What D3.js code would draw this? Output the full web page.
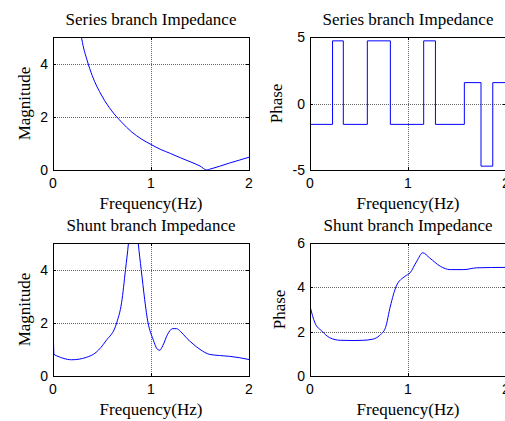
<!DOCTYPE html>
<html>
<head>
<meta charset="utf-8">
<script src="https://cdn.jsdelivr.net/npm/d3@7"></script>
<style>
  body { margin: 0; background: #fff; }
  svg { display: block; }
  .tick-label { font-family: "Liberation Sans", Arial, sans-serif; font-size: 14px; fill: #000; }
  .title, .axis-title { font-family: "Liberation Serif", "Times New Roman", serif; font-size: 17px; fill: #000; }
</style>
</head>
<body>
<div id="chart"></div>
<script>
// Series branch magnitude
const seriesMagFreq = [0.29, 0.3, 0.35, 0.4, 0.5, 0.6, 0.7, 0.8, 0.9, 1.0, 1.1, 1.2, 1.3, 1.4, 1.5, 1.57, 1.6, 1.7, 1.8, 1.9, 2.0];
const seriesMag     = [5.0, 4.8, 4.1, 3.55, 2.78, 2.22, 1.8, 1.44, 1.17, 0.96, 0.77, 0.62, 0.46, 0.31, 0.15, 0.0, 0.03, 0.14, 0.26, 0.37, 0.48];

// Series branch phase (step levels)
const seriesPhaseFreq = [0, 0.23, 0.34, 0.585, 0.82, 1.16, 1.28, 1.575, 1.745, 1.865, 2.0];
const seriesPhase     = [-1.57, 4.71, -1.57, 4.71, -1.57, 4.71, -1.57, 1.57, -4.71, 1.57, 1.57];

// Shunt branch magnitude
const shuntMagFreq = [0, 0.01, 0.05, 0.1, 0.19, 0.34, 0.44, 0.54, 0.65, 0.7, 0.74, 0.77, 0.82, 0.87, 0.9, 0.97, 1.02, 1.07, 1.09, 1.12, 1.17, 1.22, 1.26, 1.3, 1.36, 1.43, 1.5, 1.6, 1.7, 1.8, 1.9, 2.0];
const shuntMag     = [2.39, 0.82, 0.74, 0.67, 0.61, 0.7, 0.89, 1.32, 2.0, 2.76, 4.0, 5.0, 7.5, 5.0, 4.0, 2.0, 1.39, 0.99, 0.97, 1.14, 1.57, 1.78, 1.78, 1.68, 1.44, 1.2, 1.0, 0.81, 0.77, 0.74, 0.69, 0.62];

// Shunt branch phase
const shuntPhaseFreq = [0, 0.05, 0.12, 0.2, 0.31, 0.45, 0.54, 0.64, 0.71, 0.77, 0.82, 0.88, 0.97, 1.02, 1.09, 1.15, 1.22, 1.33, 1.43, 1.57, 1.7, 2.0];
const shuntPhase     = [3.15, 2.4, 2.03, 1.73, 1.61, 1.6, 1.61, 1.66, 1.83, 2.18, 3.15, 4.05, 4.5, 4.65, 5.18, 5.56, 5.33, 4.95, 4.8, 4.8, 4.88, 4.9];

const xTicks = [0, 1, 2];

const W = 505, H = 421;
const svg = d3.select('#chart').append('svg').attr('width', W).attr('height', H);

const panels = [
  {id: 'a', left: 53,  top: 37,  title: 'Series branch Impedance', yLabel: 'Magnitude', yOff: 23,
   x: seriesMagFreq, y: seriesMag, yDomain: [0, 5], yTicks: [0, 2, 4], curve: d3.curveMonotoneX},
  {id: 'b', left: 310, top: 37,  title: 'Series branch Impedance', yLabel: 'Phase', yOff: 28,
   x: seriesPhaseFreq, y: seriesPhase, yDomain: [-5, 5], yTicks: [-5, 0, 5], curve: d3.curveStepAfter},
  {id: 'c', left: 53,  top: 243, title: 'Shunt branch Impedance', yLabel: 'Magnitude', yOff: 23,
   x: shuntMagFreq, y: shuntMag, yDomain: [0, 5], yTicks: [0, 2, 4], curve: d3.curveMonotoneX},
  {id: 'd', left: 310, top: 243, title: 'Shunt branch Impedance', yLabel: 'Phase', yOff: 25,
   x: shuntPhaseFreq, y: shuntPhase, yDomain: [0, 6], yTicks: [0, 2, 4, 6], curve: d3.curveMonotoneX}
];

const pw = 196, ph = 133;

panels.forEach(p => {
  const g = svg.append('g').attr('transform', `translate(${p.left},${p.top})`);
  const xScale = d3.scaleLinear().domain([0, 2]).range([0, pw]);
  const yScale = d3.scaleLinear().domain(p.yDomain).range([ph, 0]);

  g.append('clipPath').attr('id', 'clip-' + p.id)
    .append('rect').attr('width', pw).attr('height', ph);

  // grid lines (dotted)
  g.selectAll('.gx').data(xTicks.filter(t => t > 0 && t < 2)).enter()
    .append('line')
    .attr('x1', d => xScale(d) + 0.5).attr('x2', d => xScale(d) + 0.5)
    .attr('y1', 0).attr('y2', ph)
    .attr('stroke', '#666').attr('stroke-dasharray', '1,1');
  g.selectAll('.gy').data(p.yTicks.filter(t => t > p.yDomain[0] && t < p.yDomain[1])).enter()
    .append('line')
    .attr('y1', d => Math.round(yScale(d)) + 0.5).attr('y2', d => Math.round(yScale(d)) + 0.5)
    .attr('x1', 0).attr('x2', pw)
    .attr('stroke', '#666').attr('stroke-dasharray', '1,1');

  // data line
  const line = d3.line()
    .x((d, i) => xScale(p.x[i]))
    .y(d => yScale(d))
    .curve(p.curve);
  g.append('path')
    .datum(p.y)
    .attr('clip-path', `url(#clip-${p.id})`)
    .attr('d', line)
    .attr('fill', 'none')
    .attr('stroke', '#0000ff')
    .attr('stroke-width', 1);

  // box
  g.append('rect').attr('x', 0.5).attr('y', 0.5).attr('width', pw).attr('height', ph)
    .attr('fill', 'none').attr('stroke', '#000').attr('stroke-width', 1);

  // inner ticks on all sides
  xTicks.forEach(t => {
    const x = xScale(t) + 0.5;
    g.append('line').attr('x1', x).attr('x2', x).attr('y1', ph).attr('y2', ph - 3).attr('stroke', '#000');
    g.append('line').attr('x1', x).attr('x2', x).attr('y1', 0).attr('y2', 3).attr('stroke', '#000');
  });
  p.yTicks.forEach(t => {
    const y = Math.round(yScale(t)) + 0.5;
    g.append('line').attr('x1', 0).attr('x2', 3).attr('y1', y).attr('y2', y).attr('stroke', '#000');
    g.append('line').attr('x1', pw).attr('x2', pw - 3).attr('y1', y).attr('y2', y).attr('stroke', '#000');
  });

  // tick labels
  g.selectAll('.xl').data(xTicks).enter().append('text')
    .attr('class', 'tick-label')
    .attr('x', d => xScale(d)).attr('y', ph + 18)
    .attr('text-anchor', 'middle')
    .text(d => d);
  g.selectAll('.yl').data(p.yTicks).enter().append('text')
    .attr('class', 'tick-label')
    .attr('x', -5).attr('y', d => yScale(d) + 5)
    .attr('text-anchor', 'end')
    .text(d => d);

  // titles
  g.append('text').attr('class', 'title')
    .attr('x', pw / 2).attr('y', -12)
    .attr('text-anchor', 'middle')
    .text(p.title);
  g.append('text').attr('class', 'axis-title')
    .attr('x', pw / 2).attr('y', ph + 39)
    .attr('text-anchor', 'middle')
    .text('Frequency(Hz)');
  g.append('text').attr('class', 'axis-title')
    .attr('transform', `translate(${-p.yOff},${ph / 2}) rotate(-90)`)
    .attr('text-anchor', 'middle')
    .text(p.yLabel);
});
</script>
</body>
</html>
